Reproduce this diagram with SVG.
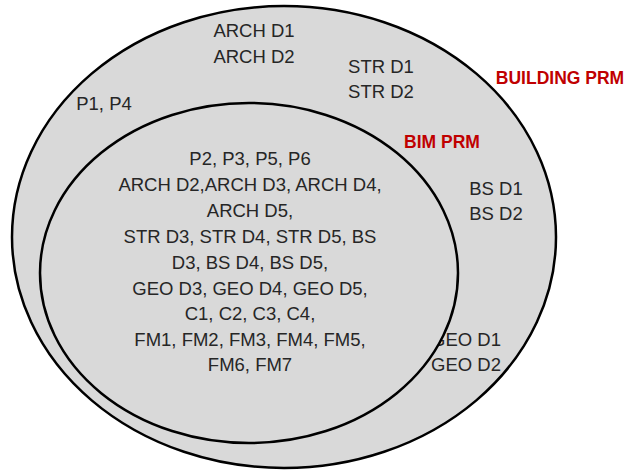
<svg xmlns="http://www.w3.org/2000/svg" width="628" height="470" viewBox="0 0 628 470">
<style>
.e{fill:#d9d9d9;stroke:#000;stroke-width:2.5}
text{font-family:"Liberation Sans",Arial,sans-serif;font-size:18.5px;fill:#262626;text-anchor:middle}
.r{fill:#c00000;font-weight:bold;font-size:17.5px}
</style>
<rect width="628" height="470" fill="#fff"/>
<g id="building-prm">
<ellipse class="e" cx="284" cy="237" rx="272" ry="231"/>
<text class="r" x="560" y="84">BUILDING PRM</text>
<text x="254" y="37">ARCH D1</text>
<text x="254" y="63">ARCH D2</text>
<text x="381" y="73">STR D1</text>
<text x="381" y="98">STR D2</text>
<text x="104" y="110">P1, P4</text>
<text x="496" y="195">BS D1</text>
<text x="496" y="220">BS D2</text>
<text x="466" y="346">GEO D1</text>
<text x="466" y="371">GEO D2</text>
</g>
<g id="bim-prm">
<ellipse class="e" cx="249" cy="273" rx="209" ry="170"/>
<text class="r" x="442" y="148">BIM PRM</text>
<text x="250" y="165">P2, P3, P5, P6</text>
<text x="250" y="191">ARCH D2,ARCH D3, ARCH D4,</text>
<text x="250" y="217">ARCH D5,</text>
<text x="250" y="243">STR D3, STR D4, STR D5, BS</text>
<text x="250" y="269">D3, BS D4, BS D5,</text>
<text x="250" y="295">GEO D3, GEO D4, GEO D5,</text>
<text x="250" y="320">C1, C2, C3, C4,</text>
<text x="250" y="346">FM1, FM2, FM3, FM4, FM5,</text>
<text x="250" y="371">FM6, FM7</text>
</g>
<g id="connectors"/>
</svg>
